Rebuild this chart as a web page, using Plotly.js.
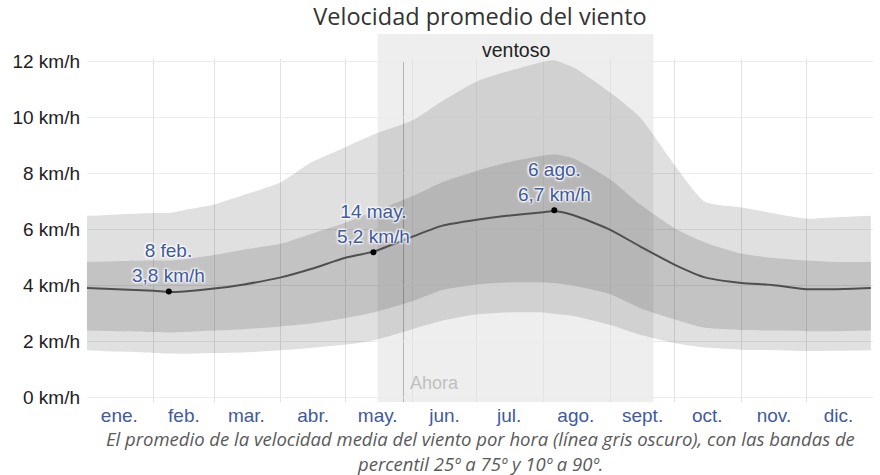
<!DOCTYPE html>
<html>
<head>
<meta charset="utf-8">
<script src="https://cdn.plot.ly/plotly-3.0.1.min.js"></script>
<style>
  html, body { margin: 0; padding: 0; background: #fff; }
  #chart { width: 880px; height: 475px; }
</style>
</head>
<body>
<div id="chart"></div>
<script>
// ---- data ----
const dates = ['2023-01-01','2023-01-15','2023-02-01','2023-02-08','2023-02-15','2023-03-01','2023-03-15',
  '2023-04-01','2023-04-15','2023-05-01','2023-05-14','2023-06-01','2023-06-15','2023-07-01','2023-07-15',
  '2023-08-01','2023-08-06','2023-08-15','2023-09-01','2023-09-15','2023-10-01','2023-10-15','2023-11-01',
  '2023-11-15','2023-12-01','2023-12-15','2023-12-31'];
const meanSpeed = [3.92,3.88,3.82,3.78,3.8,3.9,4.05,4.3,4.6,5.0,5.22,5.75,6.15,6.36,6.5,6.63,6.67,6.52,6.0,5.4,4.75,4.3,4.1,4.03,3.88,3.88,3.92];
const p75 = [4.86,4.88,4.9,4.9,4.95,5.1,5.3,5.5,5.85,6.25,6.65,7.2,7.7,8.1,8.4,8.65,8.7,8.55,7.8,6.9,6.05,5.55,5.15,5.0,4.9,4.85,4.86];
const p25 = [2.4,2.38,2.35,2.33,2.35,2.4,2.45,2.55,2.65,2.85,3.05,3.45,3.85,4.05,4.12,4.12,4.1,4.0,3.7,3.2,2.8,2.5,2.42,2.4,2.38,2.38,2.4];
const p90 = [6.5,6.55,6.6,6.6,6.7,6.9,7.25,7.7,8.4,8.95,9.4,9.9,10.6,11.3,11.65,12.0,12.05,11.8,10.9,10.0,8.3,7.0,6.8,6.6,6.4,6.45,6.5];
const p10 = [1.7,1.65,1.6,1.58,1.57,1.6,1.62,1.7,1.78,1.9,2.05,2.45,2.75,2.98,3.05,3.05,3.0,2.92,2.6,2.25,1.95,1.8,1.72,1.7,1.67,1.68,1.7];

const hlDates = ['2023-02-08','2023-05-14','2023-08-06'];
const hlValues = [3.8,5.2,6.7];
const hlLabels = ['8 feb.','14 may.','6 ago.'];

const windyStart = '2023-05-16';
const windyEnd = '2023-09-21';
const windyLabel = 'ventoso';
const nowDate = '2023-05-28';
const nowLabel = 'Ahora';

const monthStarts = ['2023-02-01','2023-03-01','2023-04-01','2023-05-01','2023-06-01','2023-07-01',
  '2023-08-01','2023-09-01','2023-10-01','2023-11-01','2023-12-01'];
const monthMids = ['2023-01-16','2023-02-15','2023-03-16','2023-04-16','2023-05-16','2023-06-16',
  '2023-07-16','2023-08-16','2023-09-16','2023-10-16','2023-11-16','2023-12-16'];
const monthLabels = ['ene.','feb.','mar.','abr.','may.','jun.','jul.','ago.','sept.','oct.','nov.','dic.'];
const yTicks = [0,2,4,6,8,10,12];
const yTickLabels = yTicks.map(v => v + ' km/h');

const titleText = 'Velocidad promedio del viento';
const captionLines = [
  'El promedio de la velocidad media del viento por hora (línea gris oscuro), con las bandas de',
  'percentil 25º a 75º y 10º a 90º.'
];

// ---- traces ----
const sm = {shape: 'spline', smoothing: 0.6, width: 0};
const traces = [
  {x: dates, y: p10, type: 'scatter', mode: 'lines', line: sm, hoverinfo: 'skip', showlegend: false},
  {x: dates, y: p90, type: 'scatter', mode: 'lines', line: sm, fill: 'tonexty', fillcolor: 'rgba(0,0,0,0.12)', hoverinfo: 'skip', showlegend: false},
  {x: dates, y: p25, type: 'scatter', mode: 'lines', line: sm, hoverinfo: 'skip', showlegend: false},
  {x: dates, y: p75, type: 'scatter', mode: 'lines', line: sm, fill: 'tonexty', fillcolor: 'rgba(0,0,0,0.13)', hoverinfo: 'skip', showlegend: false},
  {x: dates, y: meanSpeed, type: 'scatter', mode: 'lines', line: {shape: 'spline', smoothing: 0.6, width: 2, color: '#4f4f4f'}, showlegend: false},
  {x: hlDates, y: hlValues, type: 'scatter', mode: 'markers', marker: {color: '#000', size: 6}, showlegend: false}
];

const fam = 'Liberation Sans, Arial, sans-serif';
const blue = '#3f5a9e';

const annotations = hlDates.map((d, i) => ({
  x: d, y: hlValues[i], xref: 'x', yref: 'y',
  text: hlLabels[i] + '<br>' + hlValues[i].toFixed(1).replace('.', ',') + ' km/h',
  showarrow: false, yanchor: 'bottom', yshift: 3, align: 'center',
  font: {family: fam, size: 19, color: blue, shadow: '1px 1px 2px #fff, -1px -1px 2px #fff, 1px -1px 2px #fff, -1px 1px 2px #fff'}
}));

const windyMid = new Date((new Date(windyStart).getTime() + new Date(windyEnd).getTime()) / 2).toISOString().slice(0, 10);
annotations.push({
  x: windyMid, y: 1.026, xref: 'x', yref: 'paper', text: windyLabel, showarrow: false,
  yanchor: 'middle', font: {family: fam, size: 19.5, color: '#222'}
});
annotations.push({
  x: nowDate, y: 0, xref: 'x', yref: 'paper', text: nowLabel, showarrow: false,
  xanchor: 'left', yanchor: 'bottom', xshift: 4, yshift: 7,
  font: {family: fam, size: 18, color: '#c0c0c0'}
});
const captionY = [(402 - 438) / 343, (402 - 463) / 343];
captionLines.forEach((t, i) => annotations.push({
  x: 0.5, y: captionY[i], xref: 'paper', yref: 'paper', yanchor: 'middle',
  text: t, showarrow: false, align: 'center',
  font: {family: 'Open Sans, sans-serif', size: 18.5, color: '#5a5a5a', style: 'italic'}
}));

const layout = {
  width: 880, height: 475,
  margin: {l: 87, r: 7, t: 59, b: 73},
  paper_bgcolor: '#fff', plot_bgcolor: 'rgba(0,0,0,0)',
  showlegend: false, hovermode: false,
  title: {
    text: titleText, x: 0.5, xref: 'paper', xanchor: 'center',
    y: 1 - 17 / 475, yref: 'container', yanchor: 'middle',
    font: {family: 'Open Sans, sans-serif', size: 23.5, weight: 500, color: '#333'}
  },
  xaxis: {
    type: 'date', range: ['2023-01-01', '2024-01-01'], fixedrange: true,
    tickmode: 'array', tickvals: monthMids, ticktext: monthLabels,
    showgrid: false, zeroline: false, showline: false, ticks: '',
    tickfont: {family: fam, size: 19, color: blue},
    minor: {tickmode: 'array', tickvals: monthStarts, showgrid: true, gridcolor: '#e2e2e2', gridwidth: 1, ticks: ''}
  },
  yaxis: {
    range: [-0.15, 12.1], fixedrange: true,
    tickmode: 'array', tickvals: yTicks, ticktext: yTickLabels,
    showgrid: true, gridcolor: '#ebebeb', zeroline: false, showline: false, ticks: '',
    ticklabelstandoff: 6,
    tickfont: {family: fam, size: 19, color: '#222'}
  },
  shapes: [
    {type: 'rect', xref: 'x', yref: 'paper', x0: windyStart, x1: windyEnd, y0: 0, y1: 1.0729,
     fillcolor: '#eeeeee', line: {width: 0}, layer: 'below'},
    {type: 'line', xref: 'x', yref: 'y', x0: nowDate, x1: nowDate, y0: -0.15, y1: 12,
     line: {color: '#b4b4b4', width: 1}, layer: 'below'}
  ],
  annotations: annotations
};

Plotly.newPlot('chart', traces, layout, {staticPlot: true, displayModeBar: false});
</script>
</body>
</html>
